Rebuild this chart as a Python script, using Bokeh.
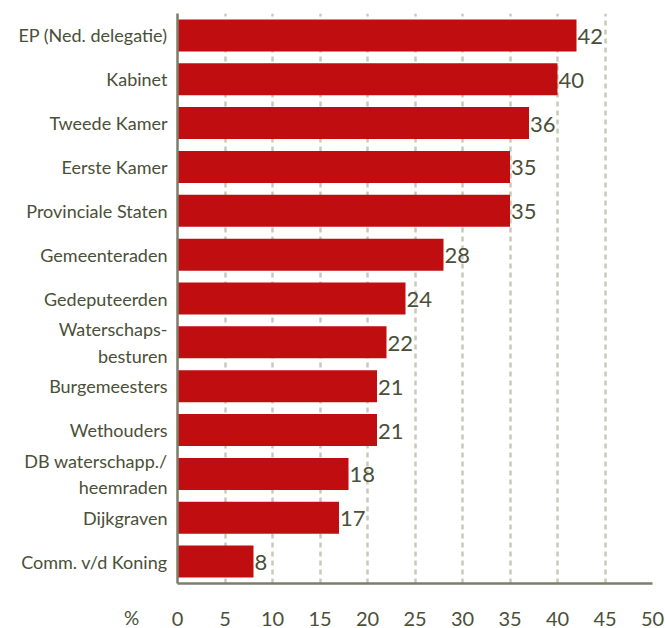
from bokeh.plotting import figure
from bokeh.models import FactorRange, ColumnDataSource, Label, FixedTicker
from bokeh.core.properties import value
from bokeh.embed import file_html
from bokeh.resources import INLINE

categories = ["EP (Ned. delegatie)", "Kabinet", "Tweede Kamer", "Eerste Kamer",
              "Provinciale Staten", "Gemeenteraden", "Gedeputeerden",
              "Waterschaps-\nbesturen", "Burgemeesters", "Wethouders",
              "DB waterschapp./\nheemraden", "Dijkgraven", "Comm. v/d Koning"]
# bar lengths as drawn in the reference
values = [42, 40, 37, 35, 35, 28, 24, 22, 21, 21, 18, 17, 8]
# printed value labels
labels = ["42", "40", "36", "35", "35", "28", "24", "22", "21", "21", "18", "17", "8"]
x_ticks = [0, 5, 10, 15, 20, 25, 30, 35, 40, 45, 50]

TEXT = "#4a4f38"
FONT = "Lato"

src = ColumnDataSource(dict(cat=categories, val=values, lab=labels))

p = figure(width=665, height=628, output_backend="svg", toolbar_location=None,
           y_range=FactorRange(*reversed(categories), range_padding=0),
           x_range=(0, 50),
           min_border_left=175, min_border_right=13, min_border_top=13, min_border_bottom=45)
p.outline_line_color = None
p.background_fill_color = "white"

p.hbar(y="cat", right="val", left=0, height=0.73, source=src,
       fill_color="#c00d10", line_color=None)
p.text(x="val", y="cat", text="lab", source=src, x_offset=1, y_offset=1,
       text_baseline="middle", text_align="left", text_font=value(FONT),
       text_font_size="22px", text_color=TEXT)

p.ygrid.grid_line_color = None
p.xgrid.grid_line_color = "#c9c9b9"
p.xgrid.grid_line_width = 2.5
p.xgrid.grid_line_dash = "5 4"
p.xgrid.ticker = FixedTicker(ticks=x_ticks)

p.xaxis.ticker = FixedTicker(ticks=x_ticks)
p.xaxis.axis_line_color = "#7d7e6a"
p.xaxis.axis_line_width = 2.5
p.xaxis.major_tick_line_color = None
p.xaxis.minor_tick_line_color = None
p.xaxis.major_label_standoff = 22
p.xaxis.major_label_text_font = FONT
p.xaxis.major_label_text_font_size = "20px"
p.xaxis.major_label_text_color = TEXT

p.yaxis.axis_line_color = "#7d7e6a"
p.yaxis.axis_line_width = 2.5
p.yaxis.major_tick_line_color = None
p.yaxis.minor_tick_line_color = None
p.yaxis.major_label_standoff = 4
p.yaxis.major_label_text_font = FONT
p.yaxis.major_label_text_font_size = "18px"
p.yaxis.major_label_text_color = TEXT

p.add_layout(Label(x=131, y=-34, x_units="screen", y_units="screen", text="%",
                   text_font=FONT, text_font_size="19px", text_color=TEXT,
                   text_align="center", text_baseline="middle"), "left")

open("out.html", "w").write(file_html(p, INLINE))
